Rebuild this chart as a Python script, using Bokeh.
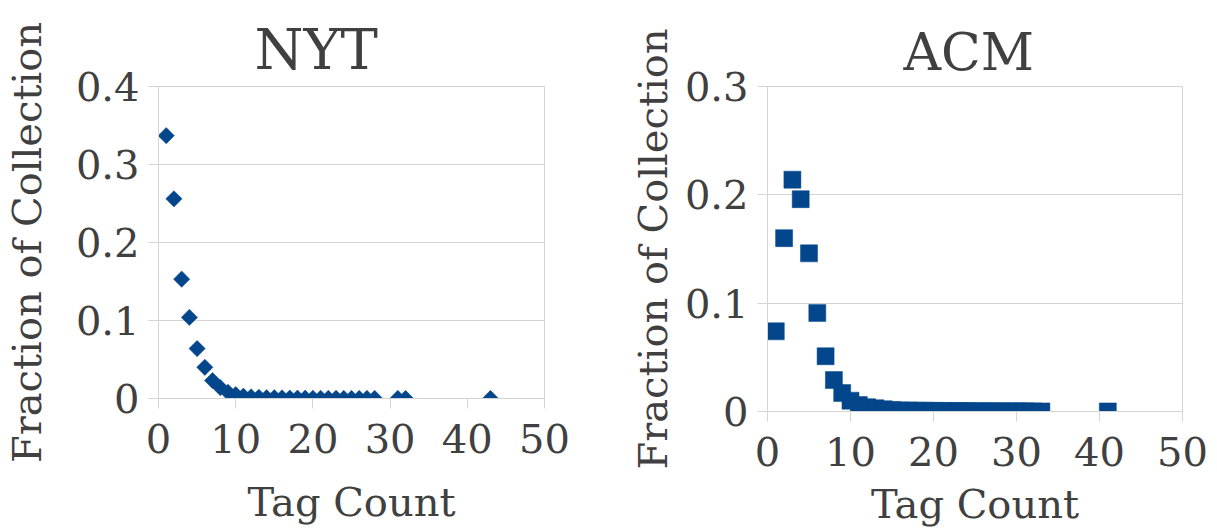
import math
from bokeh.plotting import figure
from bokeh.layouts import row
from bokeh.models import FixedTicker
from bokeh.embed import file_html
from bokeh.resources import INLINE

# ---- data ----
nyt_tag_count = [1, 2, 3, 4, 5, 6, 7, 8, 9, 10, 11, 12, 13, 14, 15, 16, 17, 18, 19, 20,
                 21, 22, 23, 24, 25, 26, 27, 28, 31, 32, 43]
nyt_fraction = [0.337, 0.256, 0.153, 0.104, 0.064, 0.040, 0.023, 0.014, 0.008, 0.005,
                0.003, 0.002, 0.0015, 0.001, 0.001, 0.0008, 0.0006, 0.0005, 0.0004, 0.0003,
                0.0003, 0.0002, 0.0002, 0.0001, 0.0001, 0.0001, 0.0001, 0.0001,
                0.00005, 0.00005, 0.00003]

acm_tag_count = [1, 2, 3, 4, 5, 6, 7, 8, 9, 10, 11, 12, 13, 14, 15, 16, 17, 18, 19, 20,
                 21, 22, 23, 24, 25, 26, 27, 28, 29, 30, 31, 32, 33, 41]
acm_fraction = [0.074, 0.160, 0.214, 0.196, 0.146, 0.091, 0.051, 0.029, 0.017, 0.010,
                0.006, 0.004, 0.003, 0.002, 0.0015, 0.001, 0.001, 0.0008, 0.0007, 0.0006,
                0.0005, 0.0005, 0.0004, 0.0004, 0.0003, 0.0003, 0.0003, 0.0002, 0.0002, 0.0002,
                0.0002, 0.0001, 0.0001, 0.0001]

x_ticks = [0, 10, 20, 30, 40, 50]
nyt_y_ticks = [0, 0.1, 0.2, 0.3, 0.4]
acm_y_ticks = [0, 0.1, 0.2, 0.3]
y_tick_labels = {0: "0", 0.1: "0.1", 0.2: "0.2", 0.3: "0.3", 0.4: "0.4"}

titles = ["NYT", "ACM"]
x_label = "Tag Count"
y_label = "Fraction of Collection"

FONT = "DejaVu Serif"
TEXT = "#404040"
GRID = "#D4D4D4"
MARK = "#03468B"


def make_panel(title, xs, ys, yticks, ymax, frame_w, frame_h, left, right, top, bottom,
               marker, size, angle, title_offset, title_size, xlab_standoff, ylab_standoff):
    p = figure(width=left + frame_w + right, height=532,
               frame_width=frame_w, frame_height=frame_h,
               x_range=(0, 50), y_range=(0, ymax),
               min_border_left=left, min_border_right=right,
               min_border_top=top, min_border_bottom=bottom,
               output_backend="svg", toolbar_location=None,
               title=title)
    p.title.text_font = FONT
    p.title.text_font_size = title_size
    p.title.text_font_style = "normal"
    p.title.text_color = TEXT
    p.title.align = "left"
    p.title.offset = title_offset
    p.title.standoff = 9

    p.outline_line_color = GRID
    p.background_fill_color = "white"
    p.border_fill_color = "white"

    p.xgrid.visible = False
    p.ygrid.grid_line_color = GRID
    p.ygrid.ticker = FixedTicker(ticks=yticks)

    p.xaxis.ticker = FixedTicker(ticks=x_ticks)
    p.yaxis.ticker = FixedTicker(ticks=yticks)
    p.yaxis.major_label_overrides = {t: y_tick_labels[t] for t in yticks}

    for ax in (p.xaxis[0], p.yaxis[0]):
        ax.axis_line_color = GRID
        ax.major_tick_line_color = GRID
        ax.major_tick_in = 0
        ax.major_tick_out = 10
        ax.minor_tick_line_color = None
        ax.major_label_text_font = FONT
        ax.major_label_text_font_size = "40px"
        ax.major_label_text_color = TEXT
        ax.axis_label_text_font = FONT
        ax.axis_label_text_font_size = "40px"
        ax.axis_label_text_font_style = "normal"
        ax.axis_label_text_color = TEXT
    p.xaxis.axis_label = x_label
    p.yaxis.axis_label = y_label
    p.xaxis.major_label_standoff = 15
    p.yaxis.major_label_standoff = 9
    p.xaxis.axis_label_standoff = xlab_standoff
    p.yaxis.axis_label_standoff = ylab_standoff

    p.scatter(xs, ys, marker=marker, size=size, angle=angle,
              fill_color=MARK, line_color=MARK, line_width=0.5)
    return p


p1 = make_panel(titles[0], nyt_tag_count, nyt_fraction, nyt_y_ticks, 0.4,
                386, 312, 157, 57, 86, 134, "square", 11.5, math.pi / 4, 96, "56px", 23, 23)
p2 = make_panel(titles[1], acm_tag_count, acm_fraction, acm_y_ticks, 0.3,
                415, 325, 166, 36, 83, 124, "square", 17, 0, 136, "52px", 12, 6)

layout = row(p1, p2, spacing=0)
open("out.html", "w").write(file_html(layout, INLINE))
